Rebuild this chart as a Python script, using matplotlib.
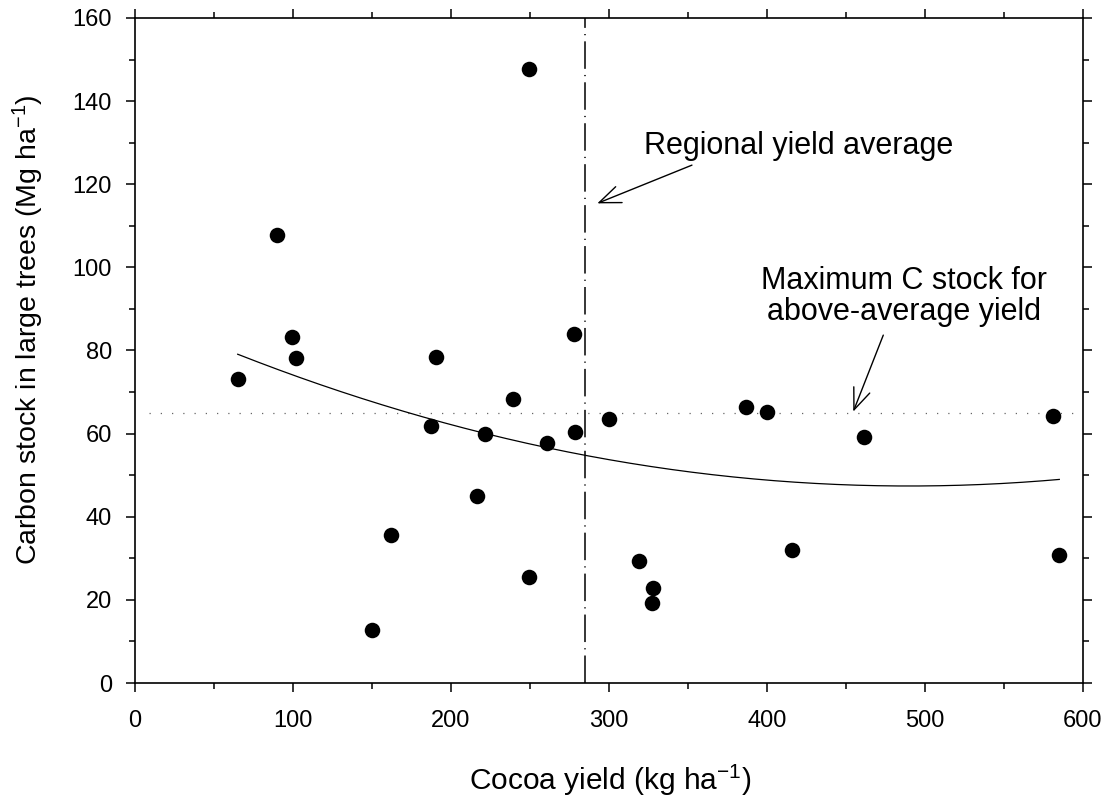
import numpy as np
import matplotlib
matplotlib.use('Agg')
import matplotlib.pyplot as plt

plt.rcParams['font.family'] = ['Liberation Sans', 'DejaVu Sans']
plt.rcParams['mathtext.fontset'] = 'custom'
plt.rcParams['mathtext.rm'] = 'Liberation Sans'

# cocoa yield (kg/ha) vs carbon stock in large trees (Mg/ha)
yield_kg = [65.0, 89.7, 99.6, 102.1, 149.8, 162.0, 187.3, 190.5, 216.2, 221.7,
            239.5, 249.6, 249.6, 261.0, 278.0, 278.7, 300.2, 319.2, 327.8, 327.0,
            386.5, 400.0, 415.6, 461.6, 581.0, 585.0]
carbon = [73.1, 107.8, 83.2, 78.1, 12.7, 35.6, 61.9, 78.4, 45.1, 59.8,
          68.3, 147.7, 25.4, 57.8, 83.9, 60.4, 63.4, 29.4, 22.8, 19.3,
          66.3, 65.1, 31.9, 59.3, 64.2, 30.8]

# quadratic fit: c2*x^2 + c1*x + c0
fit_coef = [1.755e-4, -0.1720, 89.54]
fit_range = [65, 585]

regional_avg = 285
max_c_stock = 65

fig = plt.figure(figsize=(11.15, 8.05), dpi=100)
ax = fig.add_axes([135/1115, 1-683/805, 948/1115, 665/805])

xf = np.linspace(fit_range[0], fit_range[1], 200)
ax.plot(xf, np.polyval(fit_coef, xf), color='black', lw=0.9, zorder=3)

ax.axhline(max_c_stock, xmin=0.015, xmax=0.99, color='#666666', lw=0.9, dashes=(1, 8), zorder=2)
ax.axvline(regional_avg, color='black', lw=1.1, dashes=(18, 4, 0.8, 4), zorder=2)

ax.scatter(yield_kg, carbon, s=125, color='black', zorder=4, linewidths=0)

ax.set_xlim(0, 600)
ax.set_ylim(0, 160)
ax.set_xticks(range(0, 601, 100))
ax.set_xticks(range(50, 600, 100), minor=True)
ax.set_yticks(range(0, 161, 20))
ax.set_yticks(range(10, 160, 20), minor=True)

for s in ax.spines.values():
    s.set_linewidth(1.2)
ax.tick_params(which='both', direction='out', top=True, right=True, width=1.1)
ax.tick_params(which='major', length=6.5)
ax.tick_params(which='minor', length=4)
ax.tick_params(axis='x', which='major', labelsize=17, pad=13)
ax.tick_params(axis='y', which='major', labelsize=17, pad=10)

fig.text(610/1115, 1-790/805, r'Cocoa yield (kg ha$\mathregular{^{-1}}$)',
         ha='center', va='baseline', fontsize=21.5)
fig.text(28/1115, 1-330/805, r'Carbon stock in large trees (Mg ha$\mathregular{^{-1}}$)',
         ha='center', va='center', rotation=90, fontsize=20.5)

ax.text(322, 127.3, 'Regional yield average', fontsize=22, ha='left', va='baseline')
ax.annotate('', xy=(292.6, 115.4), xytext=(352.5, 124.6),
            arrowprops=dict(arrowstyle='->,head_length=0.7,head_width=0.28',
                            lw=1.0, color='black', shrinkA=0, shrinkB=0),
            fontsize=22)

ax.text(486.7, 87.4, 'Maximum C stock for\nabove-average yield', fontsize=22,
        ha='center', va='baseline', linespacing=1.05)
ax.annotate('', xy=(454.6, 65.3), xytext=(473.6, 83.7),
            arrowprops=dict(arrowstyle='->,head_length=0.7,head_width=0.28',
                            lw=1.0, color='black', shrinkA=0, shrinkB=0),
            fontsize=22)

fig.savefig('out.png', dpi=100)
